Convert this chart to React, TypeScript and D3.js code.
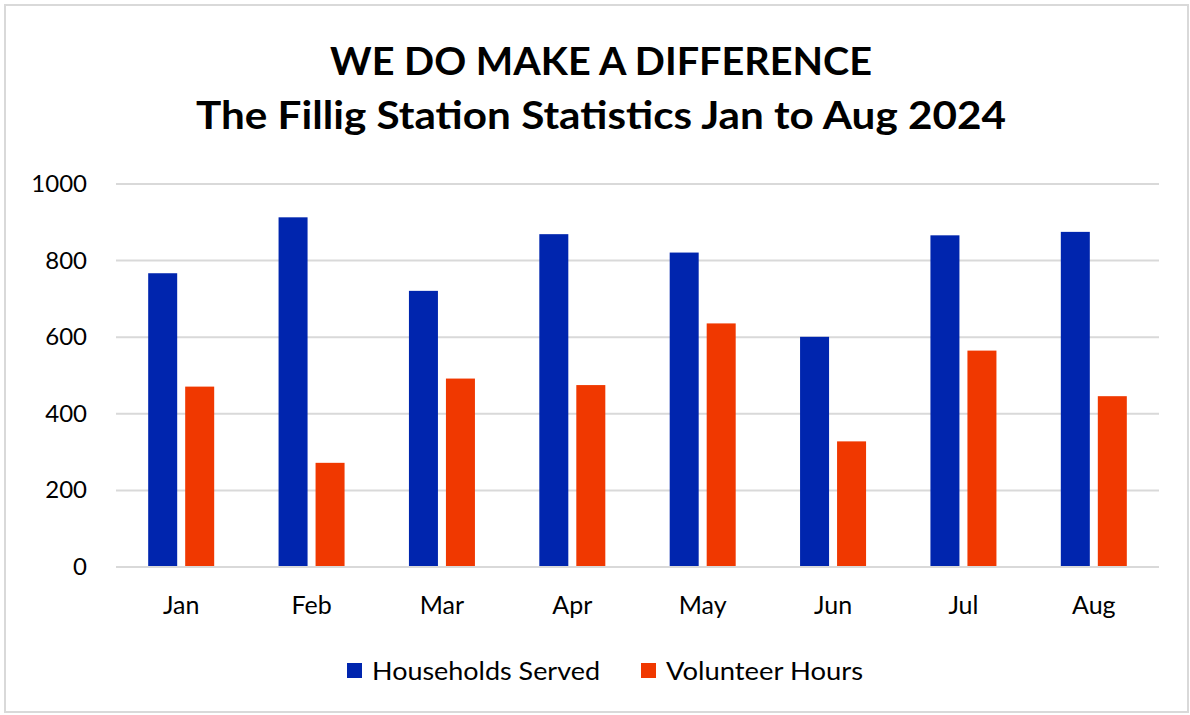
import { useEffect, useRef } from 'react';
import * as d3 from 'd3';

const months = ['Jan', 'Feb', 'Mar', 'Apr', 'May', 'Jun', 'Jul', 'Aug'];
const households = [767, 913, 721, 869, 821, 601, 866, 875];
const volunteerHours = [471, 272, 492, 475, 636, 328, 565, 446];
const seriesNames = ['Households Served', 'Volunteer Hours'];
const yTicks = [0, 200, 400, 600, 800, 1000];
const titleLines = ['WE DO MAKE A DIFFERENCE', 'The Fillig Station Statistics Jan to Aug 2024'];

const colors = ['#0025AE', '#F03800'];
const font = 'Lato, "Open Sans", sans-serif';

function App() {
  const svgRef = useRef<SVGSVGElement | null>(null);
  const width = 1190;
  const height = 715;
  const margin = { top: 184, right: 31, bottom: 148, left: 116 };

  useEffect(() => {
    const svg = d3.select(svgRef.current);
    svg.selectAll('*').remove();

    svg
      .append('rect')
      .attr('x', 5)
      .attr('y', 5)
      .attr('width', 1183)
      .attr('height', 707)
      .attr('fill', '#fff')
      .attr('stroke', '#d9d9d9')
      .attr('stroke-width', 2);

    const x = d3
      .scaleBand<string>()
      .domain(months)
      .range([margin.left, width - margin.right]);

    const y = d3
      .scaleLinear()
      .domain([0, 1000])
      .range([height - margin.bottom, margin.top]);

    // title, stretched to the widths of the original lines
    const titleWidths = [542, 810];
    svg
      .selectAll('text.title')
      .data(titleLines)
      .join('text')
      .attr('class', 'title')
      .attr('x', 601)
      .attr('y', (_, i) => (i === 0 ? 75 : 129))
      .attr('text-anchor', 'middle')
      .attr('font-family', font)
      .attr('font-weight', 'bold')
      .attr('font-size', 39)
      .attr('textLength', (_, i) => titleWidths[i])
      .attr('lengthAdjust', 'spacingAndGlyphs')
      .attr('fill', '#000')
      .text((d) => d);

    // gridlines
    svg
      .append('g')
      .selectAll('line')
      .data(yTicks)
      .join('line')
      .attr('x1', margin.left)
      .attr('x2', width - margin.right)
      .attr('y1', (d) => y(d))
      .attr('y2', (d) => y(d))
      .attr('stroke', '#d9d9d9')
      .attr('stroke-width', 2);

    // y labels
    svg
      .append('g')
      .selectAll('text')
      .data(yTicks)
      .join('text')
      .attr('x', 87)
      .attr('y', (d) => y(d) + 8)
      .attr('text-anchor', 'end')
      .attr('font-family', font)
      .attr('font-size', 24)
      .attr('fill', '#000')
      .text((d) => d);

    // bars
    const barW = 29;
    const gap = 8;
    const series = [households, volunteerHours];
    series.forEach((values, si) => {
      svg
        .append('g')
        .selectAll('rect')
        .data(values)
        .join('rect')
        .attr('x', (_, i) => {
          const c = (x(months[i]) ?? 0) + x.bandwidth() / 2;
          return si === 0 ? c - gap / 2 - barW : c + gap / 2;
        })
        .attr('y', (d) => y(d))
        .attr('width', barW)
        .attr('height', (d) => y(0) - y(d))
        .attr('fill', colors[si]);
    });

    svg
      .append('line')
      .attr('x1', margin.left)
      .attr('x2', width - margin.right)
      .attr('y1', y(0))
      .attr('y2', y(0))
      .attr('stroke', '#d9d9d9')
      .attr('stroke-width', 2);

    // x labels
    svg
      .append('g')
      .selectAll('text')
      .data(months)
      .join('text')
      .attr('x', (d) => (x(d) ?? 0) + x.bandwidth() / 2)
      .attr('y', 614)
      .attr('text-anchor', 'middle')
      .attr('font-family', font)
      .attr('font-size', 25)
      .attr('fill', '#000')
      .text((d) => d);

    // legend
    const legendX = [347, 641];
    const legendTextW = [228, 197];
    const legend = svg
      .append('g')
      .selectAll('g')
      .data(seriesNames)
      .join('g')
      .attr('transform', (_, i) => `translate(${legendX[i]},663)`);
    legend
      .append('rect')
      .attr('width', 15)
      .attr('height', 15)
      .attr('fill', (_, i) => colors[i]);
    legend
      .append('text')
      .attr('x', 25)
      .attr('y', 17)
      .attr('font-family', font)
      .attr('font-size', 25)
      .attr('textLength', (_, i) => legendTextW[i])
      .attr('lengthAdjust', 'spacingAndGlyphs')
      .attr('fill', '#000')
      .text((d) => d);
  }, []);

  return (
    <svg
      ref={svgRef}
      width={width}
      height={height}
      style={{ position: 'absolute', left: 0, top: 0, background: '#fff' }}
    />
  );
}

export default App;
